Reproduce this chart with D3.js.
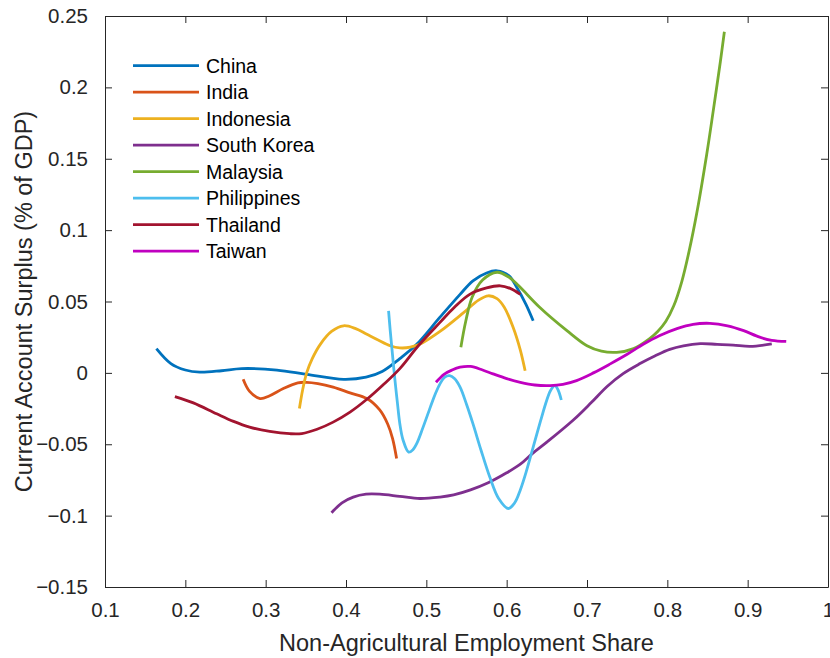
<!DOCTYPE html>
<html><head><meta charset="utf-8">
<script src="https://cdn.jsdelivr.net/npm/d3@7"></script>
<style>
html,body{margin:0;padding:0;background:#fff;}
svg{display:block;font-family:"Liberation Sans",Arial,sans-serif;}
</style></head>
<body><svg id="chart" width="830" height="658"></svg>
<script>
// ---- data ----
const countries = ["China","India","Indonesia","South Korea","Malaysia","Philippines","Thailand","Taiwan"];
const colors = ["#0072BD","#D95319","#EDB120","#7E2F8E","#77AC30","#4DBEEE","#A2142F","#C000C0"];
const xTicks = [0.1,0.2,0.3,0.4,0.5,0.6,0.7,0.8,0.9,1];
const yTicks = [-0.15,-0.1,-0.05,0,0.05,0.1,0.15,0.2,0.25];

const china = [[0.164,0.017],[0.182,0.0065],[0.2,0.002],[0.218,0.0005],[0.245,0.0015],[0.27,0.003],[0.314,0.002],[0.351,-0.001],[0.397,-0.0045],[0.425,-0.003],[0.445,0.001],[0.467,0.010],[0.488,0.020],[0.517,0.039],[0.542,0.055],[0.558,0.0645],[0.575,0.070],[0.588,0.0715],[0.603,0.068],[0.6125,0.060],[0.624,0.048],[0.633,0.0365]];
const india = [[0.272,-0.0045],[0.280,-0.013],[0.293,-0.018],[0.305,-0.016],[0.322,-0.011],[0.340,-0.007],[0.351,-0.0066],[0.365,-0.0075],[0.384,-0.010],[0.405,-0.014],[0.426,-0.018],[0.442,-0.026],[0.452,-0.036],[0.458,-0.046],[0.463,-0.060]];
const indonesia = [[0.342,-0.025],[0.346,-0.012],[0.351,0.0],[0.358,0.010],[0.368,0.020],[0.382,0.029],[0.397,0.033],[0.412,0.031],[0.426,0.027],[0.44,0.023],[0.455,0.019],[0.467,0.0175],[0.480,0.018],[0.495,0.021],[0.517,0.029],[0.546,0.042],[0.565,0.051],[0.577,0.054],[0.588,0.052],[0.597,0.046],[0.608,0.032],[0.617,0.016],[0.623,0.0015]];
const southKorea = [[0.382,-0.098],[0.395,-0.091],[0.409,-0.087],[0.425,-0.085],[0.442,-0.085],[0.467,-0.0865],[0.492,-0.088],[0.517,-0.087],[0.534,-0.0855],[0.555,-0.082],[0.577,-0.077],[0.600,-0.070],[0.617,-0.064],[0.633,-0.056],[0.650,-0.0485],[0.683,-0.033],[0.705,-0.021],[0.725,-0.0095],[0.745,-0.0005],[0.766,0.0065],[0.785,0.012],[0.803,0.0165],[0.82,0.019],[0.841,0.0205],[0.862,0.020],[0.882,0.0195],[0.903,0.0185],[0.930,0.0203]];
const malaysia = [[0.543,0.018],[0.549,0.036],[0.557,0.053],[0.570,0.065],[0.588,0.0705],[0.603,0.067],[0.615,0.061],[0.641,0.046],[0.675,0.0296],[0.700,0.019],[0.718,0.0152],[0.737,0.0144],[0.758,0.017],[0.778,0.024],[0.788,0.029],[0.798,0.036],[0.808,0.047],[0.818,0.064],[0.827,0.085],[0.837,0.113],[0.849,0.153],[0.857,0.183],[0.866,0.218],[0.871,0.239]];
const philippines = [[0.453,0.0435],[0.455,0.030],[0.457,0.018],[0.459,0.006],[0.461,-0.0054],[0.464,-0.021],[0.467,-0.0356],[0.471,-0.047],[0.478,-0.0555],[0.483,-0.054],[0.488,-0.0496],[0.496,-0.038],[0.505,-0.024],[0.511,-0.015],[0.517,-0.0077],[0.523,-0.003],[0.529,-0.002],[0.535,-0.004],[0.542,-0.010],[0.550,-0.022],[0.558,-0.0356],[0.568,-0.054],[0.579,-0.073],[0.590,-0.088],[0.602,-0.095],[0.610,-0.091],[0.617,-0.082],[0.625,-0.068],[0.633,-0.052],[0.642,-0.034],[0.650,-0.019],[0.655,-0.012],[0.660,-0.009],[0.664,-0.012],[0.668,-0.019]];
const thailand = [[0.187,-0.0166],[0.210,-0.021],[0.239,-0.0287],[0.260,-0.034],[0.280,-0.038],[0.305,-0.041],[0.330,-0.0426],[0.345,-0.0425],[0.364,-0.0395],[0.384,-0.0345],[0.405,-0.0275],[0.426,-0.0185],[0.446,-0.0085],[0.467,0.003],[0.490,0.019],[0.517,0.0354],[0.535,0.046],[0.554,0.055],[0.575,0.0595],[0.592,0.061],[0.605,0.059],[0.617,0.055]];
const taiwan = [[0.512,-0.0066],[0.522,-0.001],[0.532,0.002],[0.542,0.004],[0.555,0.0045],[0.570,0.002],[0.583,-0.0007],[0.600,-0.004],[0.617,-0.0066],[0.635,-0.0085],[0.654,-0.0089],[0.670,-0.008],[0.687,-0.0054],[0.708,0.000],[0.729,0.0063],[0.750,0.013],[0.770,0.020],[0.790,0.026],[0.812,0.031],[0.832,0.034],[0.853,0.0347],[0.875,0.033],[0.895,0.0296],[0.915,0.025],[0.930,0.0228],[0.948,0.022]];

const seriesData = [china, india, indonesia, southKorea, malaysia, philippines, thailand, taiwan];

// ---- chart ----
const svg = d3.select("#chart");
const L = 105, R = 828, T = 16, B = 587;
const x = d3.scaleLinear().domain([0.1, 1]).range([L, R]);
const y = d3.scaleLinear().domain([-0.15, 0.25]).range([B, T]);
const axisColor = "#262626";
const tickLen = 7;

function styleAxis(g){
  g.select(".domain").attr("stroke", axisColor).attr("stroke-width", 1);
  g.selectAll(".tick line").attr("stroke", axisColor).attr("stroke-width", 1);
  g.selectAll(".tick text").attr("fill", axisColor).style("font-size", "20.5px")
   .style("font-family", '"Liberation Sans",Arial,sans-serif');
}

// bottom axis
svg.append("g").attr("transform", `translate(0,${B})`)
  .call(d3.axisBottom(x).tickValues(xTicks).tickFormat(d3.format("~g")).tickSizeInner(-tickLen).tickSizeOuter(0).tickPadding(15))
  .call(styleAxis)
  .call(g => g.selectAll(".tick text").attr("dy", "0.71em"));
// top axis
svg.append("g").attr("transform", `translate(0,${T})`)
  .call(d3.axisTop(x).tickValues(xTicks).tickFormat("").tickSizeInner(-tickLen).tickSizeOuter(0))
  .call(styleAxis);
// left axis
svg.append("g").attr("transform", `translate(${L},0)`)
  .call(d3.axisLeft(y).tickValues(yTicks).tickFormat(d3.format("~g")).tickSizeInner(-tickLen).tickSizeOuter(0).tickPadding(17))
  .call(styleAxis);
// right axis
svg.append("g").attr("transform", `translate(${R},0)`)
  .call(d3.axisRight(y).tickValues(yTicks).tickFormat("").tickSizeInner(-tickLen).tickSizeOuter(0))
  .call(styleAxis);

// lines
const line = d3.line().x(d => x(d[0])).y(d => y(d[1])).curve(d3.curveCatmullRom.alpha(0.5));
const plot = svg.append("g");
seriesData.forEach((s, i) => {
  plot.append("path").datum(s).attr("d", line)
    .attr("fill", "none").attr("stroke", colors[i]).attr("stroke-width", 2.8)
    .attr("stroke-linejoin", "round").attr("stroke-linecap", "butt");
});

// legend
const lg = svg.append("g");
countries.forEach((c, i) => {
  const yy = 65.7 + i * 26.5;
  lg.append("line").attr("x1", 133).attr("x2", 199).attr("y1", yy).attr("y2", yy)
    .attr("stroke", colors[i]).attr("stroke-width", 2.8);
  lg.append("text").attr("x", 206).attr("y", yy).attr("dy", "0.36em")
    .attr("fill", "#000").style("font-size", "19.5px").text(c);
});

// axis labels
svg.append("text").attr("x", (L + R) / 2).attr("y", 651).attr("text-anchor", "middle")
  .attr("fill", axisColor).style("font-size", "23.5px").text("Non-Agricultural Employment Share");
svg.append("text").attr("transform", `translate(32,${(T + B) / 2}) rotate(-90)`).attr("text-anchor", "middle")
  .attr("fill", axisColor).style("font-size", "23.5px").text("Current Account Surplus (% of GDP)");
</script>
</body></html>
